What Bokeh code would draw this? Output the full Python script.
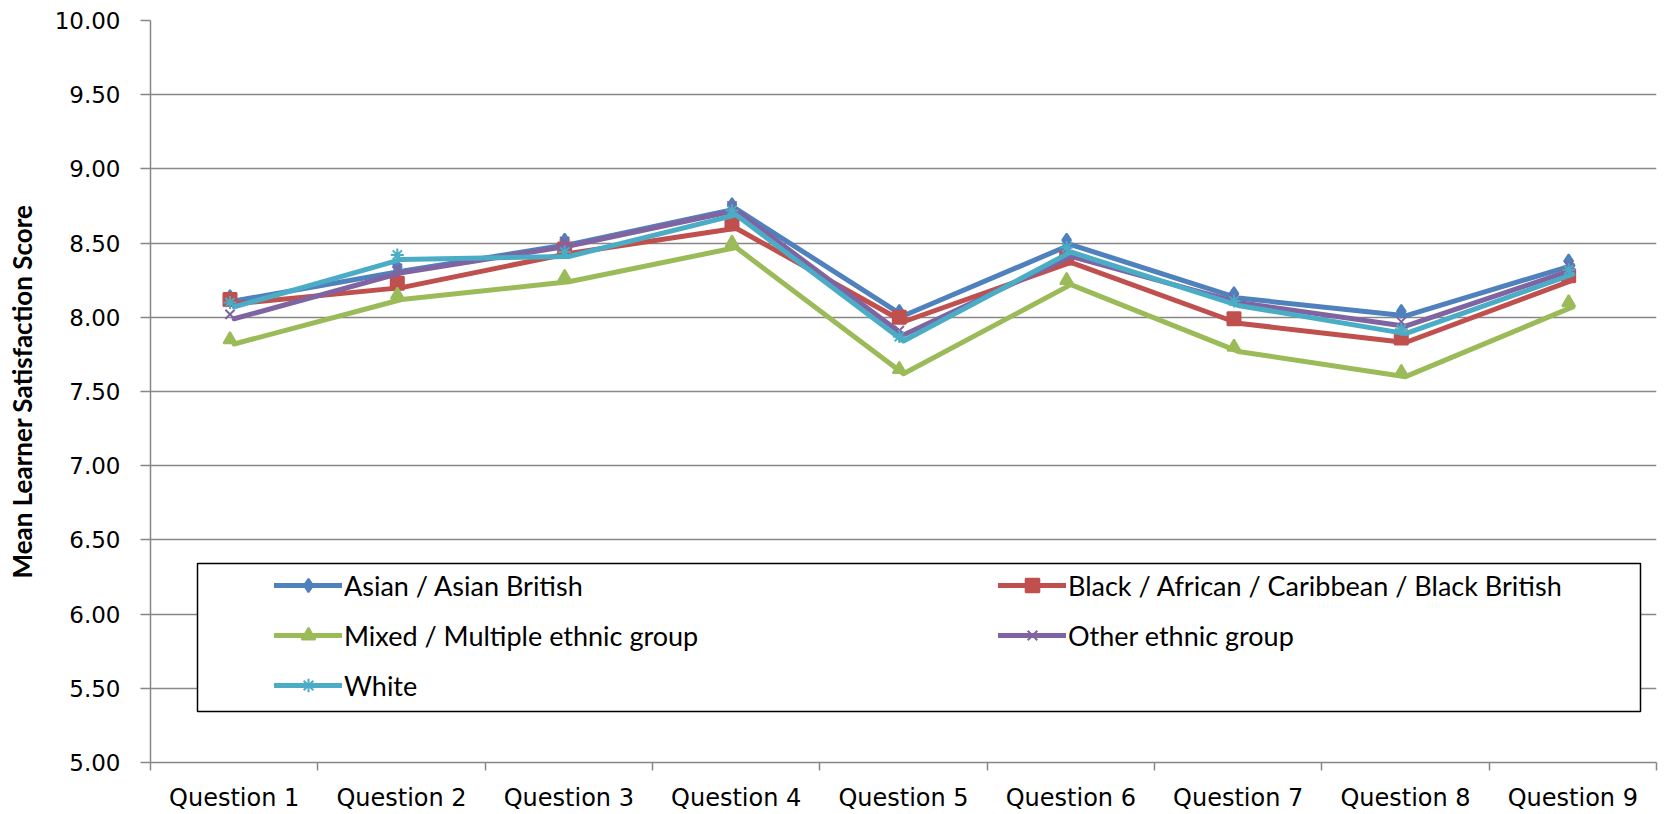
from bokeh.plotting import figure
from bokeh.models import (Range1d, FixedTicker, PrintfTickFormatter,
                          Legend, LegendItem, BoxAnnotation, ColumnDataSource)
from bokeh.transform import dodge
from bokeh.embed import file_html
from bokeh.resources import INLINE

# Survey questions along the x axis
questions = ["Question 1", "Question 2", "Question 3", "Question 4", "Question 5",
             "Question 6", "Question 7", "Question 8", "Question 9"]

# Mean learner satisfaction score per ethnic group
asian = [8.11, 8.31, 8.49, 8.73, 8.01, 8.49, 8.13, 8.01, 8.35]
black = [8.09, 8.20, 8.43, 8.60, 7.97, 8.37, 7.96, 7.83, 8.25]
mixed = [7.82, 8.12, 8.24, 8.47, 7.62, 8.22, 7.77, 7.60, 8.07]
other = [7.99, 8.30, 8.48, 8.72, 7.88, 8.41, 8.10, 7.94, 8.32]
white = [8.07, 8.39, 8.41, 8.69, 7.84, 8.44, 8.08, 7.89, 8.29]

group_names = ["Asian / Asian British",
               "Black / African / Caribbean / Black British",
               "Mixed / Multiple ethnic group",
               "Other ethnic group",
               "White"]
group_values = [asian, black, mixed, other, white]
group_colors = ["#4F81BD", "#C0504D", "#9BBB59", "#8064A2", "#4BACC6"]
group_markers = ["diamond", "square", "triangle", "x", "asterisk"]

y_ticks = [5.0, 5.5, 6.0, 6.5, 7.0, 7.5, 8.0, 8.5, 9.0, 9.5, 10.0]

GRID = "#878787"

# each question sits in the middle of its own unit-wide slot
centers = [i + 0.5 for i in range(len(questions))]
bounds = list(range(len(questions) + 1))

p = figure(width=1664, height=814, output_backend="svg", toolbar_location=None,
           x_range=Range1d(0, len(questions)), y_range=Range1d(5, 10),
           min_border_left=150, min_border_right=8, min_border_top=20,
           min_border_bottom=50)
p.outline_line_color = None
p.background_fill_color = "white"
p.border_fill_color = "white"

# x axis: tick marks between the questions, labels in the middle
p.xaxis.ticker = FixedTicker(ticks=centers, minor_ticks=bounds)
p.xaxis.major_label_overrides = {c: q for c, q in zip(centers, questions)}
p.xaxis.major_tick_out = 0
p.xaxis.major_tick_in = 0
p.xaxis.minor_tick_out = 8
p.xaxis.minor_tick_in = 0
p.xaxis.minor_tick_line_color = GRID
p.xaxis.minor_tick_line_width = 1.5
p.xaxis.major_label_standoff = 13
p.xaxis.major_label_text_font = "DejaVu Sans"
p.xaxis.major_label_text_font_size = "24px"
p.xaxis.major_label_text_color = "black"
p.xaxis.axis_line_color = GRID
p.xaxis.axis_line_width = 1.5
p.xgrid.grid_line_color = None

# y axis
p.yaxis.ticker = FixedTicker(ticks=y_ticks)
p.yaxis.formatter = PrintfTickFormatter(format="%.2f")
p.yaxis.major_tick_out = 10
p.yaxis.major_tick_in = 0
p.yaxis.minor_tick_out = 0
p.yaxis.minor_tick_in = 0
p.yaxis.major_tick_line_color = GRID
p.yaxis.major_tick_line_width = 1.5
p.yaxis.major_label_standoff = 20
p.yaxis.major_label_text_font = "DejaVu Sans"
p.yaxis.major_label_text_font_size = "23px"
p.yaxis.major_label_text_color = "black"
p.yaxis.axis_line_color = GRID
p.yaxis.axis_line_width = 1.5
p.yaxis.axis_label = "Mean Learner Satisfaction Score"
p.yaxis.axis_label_text_font = "Lato"
p.yaxis.axis_label_text_font_style = "bold"
p.yaxis.axis_label_text_font_size = "26px"
p.yaxis.axis_label_text_color = "black"
p.yaxis.axis_label_standoff = 14
p.ygrid.ticker = FixedTicker(ticks=y_ticks)
p.ygrid.grid_line_color = GRID
p.ygrid.grid_line_width = 1.5

items = {}
for name, vals, color, marker in zip(group_names, group_values, group_colors, group_markers):
    src = ColumnDataSource(dict(x=centers, y=vals))
    mk = p.scatter(x=dodge("x", -0.025, range=p.x_range), y=dodge("y", 0.03, range=p.y_range),
                   source=src, marker=marker, size=13, fill_color=color,
                   line_color=color, line_width=2)
    ln = p.line(x="x", y="y", source=src, line_color=color, line_width=5,
                line_join="round", line_cap="round")
    items[name] = LegendItem(label=name, renderers=[ln, mk])

# legend frame
frame = BoxAnnotation(left=47, right=1490, bottom=51, top=199,
                      left_units="screen", right_units="screen",
                      bottom_units="screen", top_units="screen",
                      fill_color="white", fill_alpha=1.0,
                      line_color="black", line_alpha=1.0, line_width=1.5)
p.add_layout(frame)


def make_legend(names, loc):
    lg = Legend(items=[items[n] for n in names], location=loc,
                orientation="vertical", padding=0, margin=0, spacing=16,
                glyph_width=68, glyph_height=34, label_height=34,
                label_standoff=2, border_line_color=None,
                background_fill_alpha=0.0,
                label_text_font="Lato", label_text_font_size="27px",
                label_text_color="black")
    p.add_layout(lg, "center")
    return lg


make_legend([group_names[0], group_names[2], group_names[4]], (124, 60))
make_legend([group_names[1], group_names[3]], (848, 110))

open("out.html", "w").write(file_html(p, INLINE))
